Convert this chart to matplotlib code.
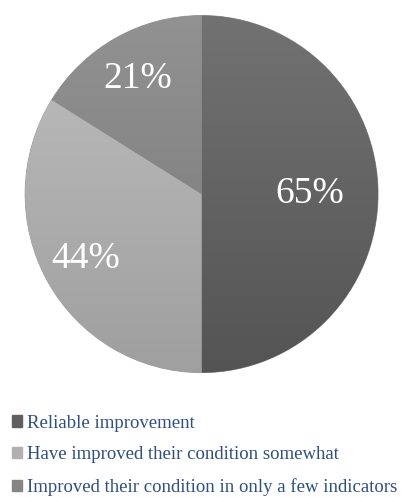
import numpy as np
import matplotlib.pyplot as plt
from matplotlib.colors import LinearSegmentedColormap

labels = ["Reliable improvement",
          "Have improved their condition somewhat",
          "Improved their condition in only a few indicators"]
values = [65, 44, 21]
# gradient top -> bottom for each slice
grad_colors = [("#727272", "#545454"),
               ("#bebebe", "#9f9f9f"),
               ("#929292", "#777777")]
legend_colors = ["#5f5f5f", "#b0b0b0", "#858585"]
label_dist = [0.61, 0.75, 0.74]

plt.rcParams['font.family'] = ['Liberation Serif', 'DejaVu Serif']

fig = plt.figure(figsize=(4.02, 4.97), dpi=100)
ax = fig.add_axes([0.0625, 0.243, 0.878, 0.733])

wedges, _ = ax.pie(values, startangle=90, counterclock=False, radius=1.0,
                   colors=[c[0] for c in grad_colors],
                   wedgeprops=dict(linewidth=0.6, edgecolor="#999999"))
ax.set_xlim(-1.0, 1.0)
ax.set_ylim(-1.02, 1.02)
ax.set_aspect('auto')

yy = np.linspace(1, 0, 256).reshape(-1, 1)
for w, (c_top, c_bot), v, d in zip(wedges, grad_colors, values, label_dist):
    cmap = LinearSegmentedColormap.from_list("g", [c_bot, c_top])
    im = ax.imshow(yy, cmap=cmap, extent=[-1, 1, -1, 1], aspect='auto',
                   zorder=w.get_zorder() + 0.1, vmin=0, vmax=1)
    im.set_clip_path(w)
    ang = np.deg2rad((w.theta1 + w.theta2) / 2)
    ax.text(d * np.cos(ang), d * np.sin(ang), f"{v}%", color="white",
            fontsize=27, ha="center", va="center", zorder=5)

ax.axis('off')

handles = [plt.Rectangle((0, 0), 1, 1, color=c) for c in legend_colors]
fig.legend(handles, labels, loc="upper left", bbox_to_anchor=(-0.003, 0.192),
           frameon=False, fontsize=13.5, labelcolor="#2e4f7f",
           handlelength=0.55, handleheight=0.55, handletextpad=0.25,
           labelspacing=0.78, borderpad=0.2)

fig.savefig("out.png", dpi=100)
